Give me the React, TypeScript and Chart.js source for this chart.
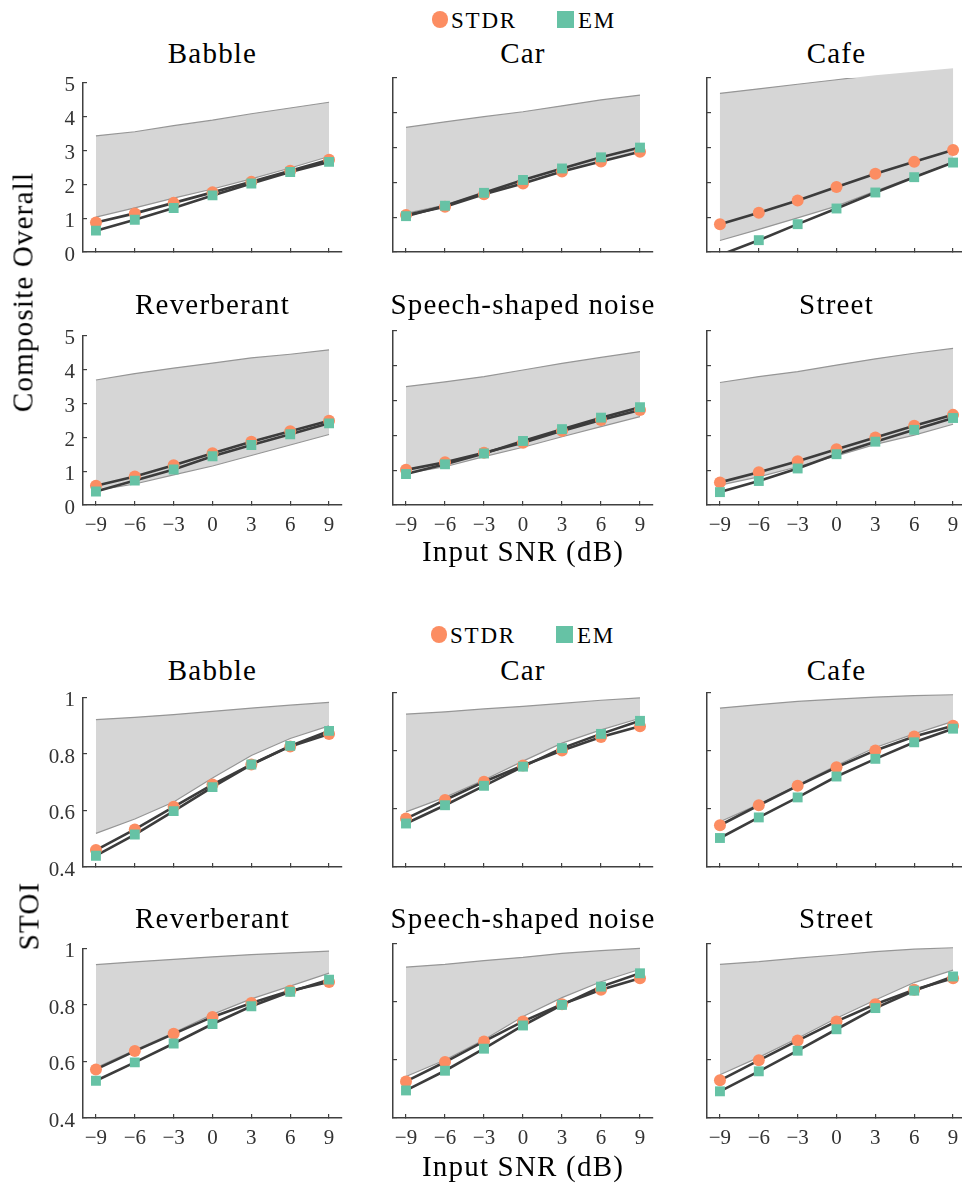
import React, { useEffect, useRef } from "react";
import { Chart, registerables } from "chart.js";

Chart.register(...registerables);

// ---------------- DATA ----------------
const snrLevels = [-9, -6, -3, 0, 3, 6, 9];
const xTickValues = [-9, -6, -3, 0, 3, 6, 9];
const noiseTypes = ["Babble", "Car", "Cafe", "Reverberant", "Speech-shaped noise", "Street"];
const seriesNames = ["STDR", "EM"];
const covlTicks = [0, 1, 2, 3, 4, 5];
const stoiTicks = [0.4, 0.6, 0.8, 1];

// Composite Overall: rows follow noiseTypes
const covlUpper = [
  [3.43, 3.55, 3.73, 3.89, 4.08, 4.25, 4.42],
  [3.58, 3.74, 3.89, 4.03, 4.2, 4.37, 4.51],
  [4.56, 4.69, 4.82, 4.95, 5.08, 5.18, 5.28],
  [3.69, 3.88, 4.04, 4.19, 4.34, 4.45, 4.58],
  [3.4, 3.54, 3.69, 3.88, 4.07, 4.24, 4.41],
  [3.52, 3.69, 3.83, 4.02, 4.2, 4.36, 4.5],
];
const covlLower = [
  [1.03, 1.3, 1.59, 1.86, 2.16, 2.48, 2.82],
  [1.11, 1.35, 1.69, 1.99, 2.31, 2.6, 2.88],
  [0.33, 0.65, 0.98, 1.32, 1.75, 2.17, 2.58],
  [0.43, 0.62, 0.89, 1.15, 1.46, 1.77, 2.08],
  [0.91, 1.1, 1.39, 1.66, 1.96, 2.25, 2.54],
  [0.57, 0.81, 1.1, 1.41, 1.74, 2.01, 2.32],
];
const covlStdr = [
  [0.87, 1.14, 1.45, 1.76, 2.07, 2.4, 2.72],
  [1.06, 1.3, 1.66, 1.97, 2.31, 2.6, 2.88],
  [0.8, 1.13, 1.48, 1.87, 2.25, 2.59, 2.93],
  [0.57, 0.84, 1.17, 1.53, 1.87, 2.18, 2.49],
  [1.01, 1.23, 1.5, 1.79, 2.13, 2.44, 2.73],
  [0.65, 0.94, 1.26, 1.6, 1.94, 2.28, 2.59],
];
const covlEm = [
  [0.63, 0.95, 1.3, 1.67, 2.02, 2.36, 2.66],
  [1.03, 1.33, 1.7, 2.07, 2.4, 2.72, 3.0],
  [-0.09, 0.34, 0.8, 1.25, 1.71, 2.15, 2.57],
  [0.4, 0.72, 1.05, 1.44, 1.77, 2.09, 2.41],
  [0.89, 1.17, 1.48, 1.84, 2.18, 2.51, 2.81],
  [0.37, 0.69, 1.05, 1.46, 1.82, 2.16, 2.5],
];

// STOI
const stoiUpper = [
  [0.922, 0.93, 0.94, 0.951, 0.963, 0.973, 0.983],
  [0.927, 0.935, 0.945, 0.954, 0.964, 0.975, 0.983],
  [0.948, 0.96, 0.971, 0.979, 0.986, 0.991, 0.994],
  [0.943, 0.953, 0.962, 0.971, 0.979, 0.985, 0.991],
  [0.92, 0.93, 0.943, 0.954, 0.968, 0.977, 0.985],
  [0.93, 0.939, 0.951, 0.962, 0.974, 0.982, 0.987],
];
const stoiLower = [
  [0.519, 0.57, 0.63, 0.715, 0.795, 0.855, 0.9],
  [0.59, 0.64, 0.7, 0.765, 0.827, 0.873, 0.913],
  [0.556, 0.616, 0.683, 0.75, 0.812, 0.859, 0.902],
  [0.578, 0.641, 0.702, 0.767, 0.822, 0.867, 0.913],
  [0.543, 0.6, 0.67, 0.75, 0.815, 0.87, 0.913],
  [0.549, 0.609, 0.675, 0.744, 0.807, 0.867, 0.91],
];
const stoiStdr = [
  [0.46, 0.533, 0.613, 0.692, 0.763, 0.827, 0.871],
  [0.567, 0.631, 0.694, 0.75, 0.802, 0.848, 0.885],
  [0.544, 0.613, 0.68, 0.744, 0.802, 0.85, 0.887],
  [0.572, 0.637, 0.698, 0.758, 0.807, 0.851, 0.882],
  [0.526, 0.593, 0.664, 0.733, 0.792, 0.842, 0.882],
  [0.53, 0.599, 0.667, 0.733, 0.792, 0.842, 0.882],
];
const stoiEm = [
  [0.44, 0.515, 0.598, 0.683, 0.763, 0.829, 0.882],
  [0.55, 0.613, 0.68, 0.746, 0.81, 0.859, 0.904],
  [0.5, 0.571, 0.64, 0.712, 0.773, 0.83, 0.877],
  [0.532, 0.597, 0.664, 0.733, 0.796, 0.847, 0.89],
  [0.495, 0.563, 0.639, 0.719, 0.79, 0.853, 0.899],
  [0.492, 0.561, 0.632, 0.706, 0.779, 0.839, 0.888],
];

// ---------------- STYLE / LAYOUT ----------------
const ORANGE = "#FC8D62";
const TEAL = "#66C2A5";
const DARK = "#3c3c3c";
const BAND_FILL = "#d6d6d6";
const BAND_LINE = "#969696";
const AXIS = "#404040";
const FONT = "'Liberation Serif', 'Times New Roman', serif";

const YW = 80;
const PR = 14;
const PT = 20;
const XH = 44;
const AREA_H = 174;
const colLeft = [83, 393, 707];
const colRight = [342, 653, 966];

const metrics = [
  {
    label: "Composite Overall",
    upper: covlUpper, lower: covlLower, stdr: covlStdr, em: covlEm,
    ticks: covlTicks, min: 0, max: 5,
    rowTops: [78, 331], titleY: [53, 304], legendY: 19.5, xLabelY: 551, yLabelX: 23, yLabelY: 292,
  },
  {
    label: "STOI",
    upper: stoiUpper, lower: stoiLower, stdr: stoiStdr, em: stoiEm,
    ticks: stoiTicks, min: 0.4, max: 1,
    rowTops: [693, 944], titleY: [670, 918], legendY: 634.5, xLabelY: 1166, yLabelX: 29, yLabelY: 916,
  },
];

const fmtX = (v: number) => (v < 0 ? "\u2212" + Math.abs(v) : String(v));
const fmtY = (v: number) => (Number.isInteger(v) ? String(v) : v.toFixed(1));

// Band fill that is not clipped at the axis top (the band line itself stays clipped).
// Uses the element positions the library computed for the band datasets (0 = upper, 1 = lower).
const unclippedBand = {
  id: "unclippedBand",
  beforeDatasetsDraw(chart: any) {
    const up = chart.getDatasetMeta(0).data;
    const lo = chart.getDatasetMeta(1).data;
    const ctx = chart.ctx;
    const a = chart.chartArea;
    ctx.save();
    ctx.beginPath();
    ctx.rect(a.left, 0, a.right - a.left, a.bottom);
    ctx.clip();
    ctx.beginPath();
    up.forEach((p: any, i: number) => (i ? ctx.lineTo(p.x, p.y) : ctx.moveTo(p.x, p.y)));
    for (let i = lo.length - 1; i >= 0; i--) ctx.lineTo(lo[i].x, lo[i].y);
    ctx.closePath();
    ctx.fillStyle = BAND_FILL;
    ctx.fill();
    ctx.restore();
  },
};

function Panel({ m, idx }: { m: any; idx: number }) {
  const ref = useRef<HTMLCanvasElement>(null);
  const col = idx % 3;
  const row = Math.floor(idx / 3);
  const left = colLeft[col] - YW;
  const top = m.rowTops[row] - PT;
  const width = YW + (colRight[col] - colLeft[col]) + PR;
  const height = PT + AREA_H + XH;

  useEffect(() => {
    if (!ref.current) return;
    const pts = (arr: number[]) => snrLevels.map((x, i) => ({ x, y: arr[i] }));
    const upper = m.upper[idx];
    const lower = m.lower[idx];
    const overshoot = Math.max(...upper) > m.max;
    const inRange = (r: number) => (c: any) => (c.raw && c.raw.y < m.min ? 0 : r);
    const gridCfg = { display: true, drawOnChartArea: false, drawTicks: true, tickLength: -4, color: AXIS, lineWidth: 1.2 };
    const borderCfg = { display: true, color: AXIS, width: 1.5 };
    const tickFont = { family: FONT, size: 21 };
    const chart = new Chart(ref.current, {
      type: "line",
      data: {
        datasets: [
          { label: "band", data: pts(upper), fill: overshoot ? false : "+1", backgroundColor: BAND_FILL, borderColor: "rgba(0,0,0,0)", borderWidth: 0, pointRadius: 0, order: 10 },
          { label: "band-low", data: pts(lower), fill: false, borderColor: BAND_LINE, borderWidth: 1.2, pointRadius: 0, order: 9 },
          { label: "band-up", data: pts(upper), fill: false, borderColor: BAND_LINE, borderWidth: 1.2, pointRadius: 0, order: 9 },
          { label: seriesNames[0] + " line", data: pts(m.stdr[idx]), fill: false, borderColor: DARK, borderWidth: 2.6, pointRadius: 0, order: 5 },
          { label: seriesNames[1] + " line", data: pts(m.em[idx]), fill: false, borderColor: DARK, borderWidth: 2.6, pointRadius: 0, order: 5 },
          { label: seriesNames[0], data: pts(m.stdr[idx]), showLine: false, pointStyle: "circle", pointRadius: inRange(6), pointBackgroundColor: ORANGE, pointBorderWidth: 0, order: 2 },
          { label: seriesNames[1], data: pts(m.em[idx]), showLine: false, pointStyle: "rect", pointRadius: inRange(7), pointBackgroundColor: TEAL, pointBorderWidth: 0, order: 1 },
        ] as any,
      },
      options: {
        animation: false,
        responsive: false,
        devicePixelRatio: 1,
        events: [],
        layout: { padding: { left: 0, top: PT, right: PR, bottom: 0 } },
        plugins: {
          legend: { display: false },
          tooltip: { enabled: false },
        },
        scales: {
          x: {
            type: "linear",
            min: -10,
            max: 10,
            afterBuildTicks: (s: any) => { s.ticks = xTickValues.map((v) => ({ value: v })); },
            afterFit: (s: any) => { s.height = XH; },
            ticks: { display: row === 1, autoSkip: false, maxRotation: 0, padding: 12, color: "#333", font: tickFont, callback: (v: any) => fmtX(Number(v)) },
            grid: gridCfg,
            border: borderCfg,
          },
          y: {
            type: "linear",
            min: m.min,
            max: m.max,
            afterBuildTicks: (s: any) => { s.ticks = m.ticks.map((v: number) => ({ value: v })); },
            afterFit: (s: any) => { s.width = YW; },
            ticks: { display: col === 0, padding: 12, labelOffset: 3, color: "#333", font: tickFont, callback: (v: any) => fmtY(Number(v)) },
            grid: gridCfg,
            border: borderCfg,
          },
        } as any,
      },
      plugins: overshoot ? [unclippedBand] : [],
    } as any);
    return () => chart.destroy();
  }, []);

  return (
    <canvas
      ref={ref}
      width={width}
      height={height}
      style={{ position: "absolute", left, top, width, height }}
    />
  );
}

function Txt({ x, y, size, children, anchor = "center", rotate = false, spacing = 1.2 }: any) {
  const tf = rotate
    ? "translate(-50%, -50%) rotate(-90deg)"
    : anchor === "left"
    ? "translate(0, -50%)"
    : "translate(-50%, -50%)";
  return (
    <div
      style={{
        position: "absolute",
        left: x,
        top: y,
        transform: tf,
        fontFamily: FONT,
        fontSize: size,
        lineHeight: `${size}px`,
        letterSpacing: spacing,
        whiteSpace: "nowrap",
        color: "#000",
      }}
    >
      {children}
    </div>
  );
}

function Legend({ y, dx }: { y: number; dx: number }) {
  return (
    <>
      <div style={{ position: "absolute", left: 440 + dx - 8.3, top: y - 8.3, width: 16.6, height: 16.6, borderRadius: "50%", background: ORANGE }} />
      <Txt x={451 + dx} y={y + 0.5} size={23} spacing={1.8} anchor="left">{seriesNames[0]}</Txt>
      <div style={{ position: "absolute", left: 557 + dx, top: y - 8.5, width: 17, height: 17, background: TEAL }} />
      <Txt x={578 + dx} y={y + 0.5} size={23} spacing={1.8} anchor="left">{seriesNames[1]}</Txt>
    </>
  );
}

export default function App() {
  return (
    <div style={{ position: "absolute", left: 0, top: 0, width: 962, height: 1184, overflow: "hidden", background: "#fff" }}>
      {metrics.map((m, mi) => (
        <React.Fragment key={mi}>
          <Legend y={m.legendY} dx={mi === 0 ? 0 : -1} />
          {noiseTypes.map((name, i) => {
            const col = i % 3;
            const row = Math.floor(i / 3);
            const cx = (colLeft[col] + colRight[col]) / 2;
            return (
              <React.Fragment key={name}>
                <Txt x={cx} y={m.titleY[row]} size={29}>{name}</Txt>
                <Panel m={m} idx={i} />
              </React.Fragment>
            );
          })}
          <Txt x={(colLeft[1] + colRight[1]) / 2} y={m.xLabelY} size={29}>Input SNR (dB)</Txt>
          <Txt x={m.yLabelX} y={m.yLabelY} size={29} rotate>{m.label}</Txt>
        </React.Fragment>
      ))}
    </div>
  );
}
